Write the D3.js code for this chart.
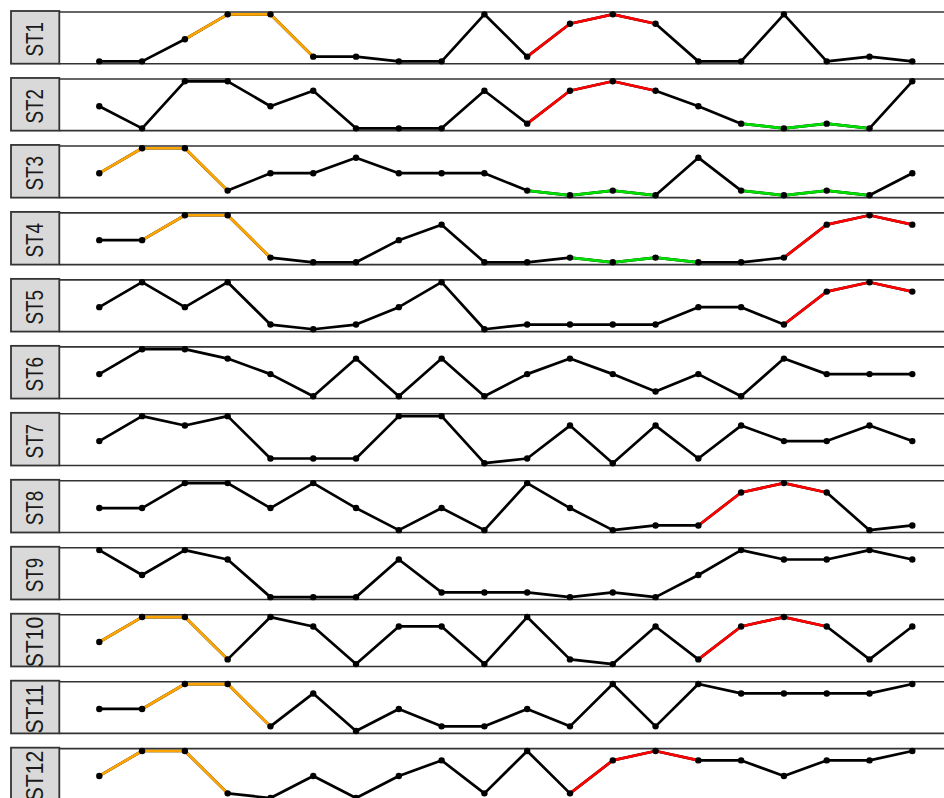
<!DOCTYPE html>
<html>
<head>
<meta charset="utf-8">
<script src="https://cdn.jsdelivr.net/npm/d3@7"></script>
<style>
html,body{margin:0;padding:0;background:#fff;overflow:hidden;}
svg{display:block;}
</style>
</head>
<body>
<svg id="chart" width="944" height="798"></svg>
<script>
// ---- data ----
const categories = ["T1","T2","T3","T4","T5","T6","T7","T8","T9","T10","T11","T12","T13","T14","T15","T16","T17","T18","T19","T20"];
const panelNames = ["ST1","ST2","ST3","ST4","ST5","ST6","ST7","ST8","ST9","ST10","ST11","ST12"];

const st1  = [0,0,0.47,1,1,0.1,0.1,0,0,1,0.1,0.8,1,0.8,0,0,1,0,0.1,0];
const st2  = [0.47,0,1,1,0.47,0.8,0,0,0,0.8,0.1,0.8,1,0.8,0.47,0.1,0,0.1,0,1];
const st3  = [0.47,1,1,0.1,0.47,0.47,0.8,0.47,0.47,0.47,0.1,0,0.1,0,0.8,0.1,0,0.1,0,0.47];
const st4  = [0.47,0.47,1,1,0.1,0,0,0.47,0.8,0,0,0.1,0,0.1,0,0,0.1,0.8,1,0.8];
const st5  = [0.47,1,0.47,1,0.1,0,0.1,0.47,1,0,0.1,0.1,0.1,0.1,0.47,0.47,0.1,0.8,1,0.8];
const st6  = [0.47,1,1,0.8,0.47,0,0.8,0,0.8,0,0.47,0.8,0.47,0.1,0.47,0,0.8,0.47,0.47,0.47];
const st7  = [0.47,1,0.8,1,0.1,0.1,0.1,1,1,0,0.1,0.8,0,0.8,0.1,0.8,0.47,0.47,0.8,0.47];
const st8  = [0.47,0.47,1,1,0.47,1,0.47,0,0.47,0,1,0.47,0,0.1,0.1,0.8,1,0.8,0,0.1];
const st9  = [1,0.47,1,0.8,0,0,0,0.8,0.1,0.1,0.1,0,0.1,0,0.47,1,0.8,0.8,1,0.8];
const st10 = [0.47,1,1,0.1,1,0.8,0,0.8,0.8,0,1,0.1,0,0.8,0.1,0.8,1,0.8,0.1,0.8];
const st11 = [0.47,0.47,1,1,0.1,0.8,0,0.47,0.1,0.1,0.47,0.1,1,0.1,1,0.8,0.8,0.8,0.8,1];
const st12 = [0.47,1,1,0.1,0,0.47,0,0.47,0.8,0.1,1,0.1,0.8,1,0.8,0.8,0.47,0.8,0.8,1];
const seriesValues = [st1,st2,st3,st4,st5,st6,st7,st8,st9,st10,st11,st12];

// highlighted runs: [panel index, start category index, end category index, kind]
const highlights = [
  [0,2,5,"peak"],[0,10,13,"rise"],
  [1,10,13,"rise"],[1,15,18,"low"],
  [2,0,3,"peak"],[2,10,13,"low"],[2,15,18,"low"],
  [3,1,4,"peak"],[3,11,14,"low"],[3,16,19,"rise"],
  [4,16,19,"rise"],
  [7,14,17,"rise"],
  [9,0,3,"peak"],[9,14,17,"rise"],
  [10,1,4,"peak"],
  [11,0,3,"peak"],[11,11,14,"rise"]
];
const kindColors = {peak:"#FFA500", rise:"#FF0000", low:"#00DD00"};

// ---- layout ----
const W = 944, H = 798;
const panelTop0 = 12, panelStep = 66.97, panelH = 51.7;
const stripX0 = 11, stripX1 = 59.3, plotX1 = 980;

const svg = d3.select("#chart");
svg.append("rect").attr("width",W).attr("height",H).attr("fill","#fff");

const x = d3.scalePoint().domain(categories).range([99.3, 912.3]);

const defs = svg.append("defs");

panelNames.forEach((name, p) => {
  const top = panelTop0 + p*panelStep;
  const bottom = top + panelH;
  const pad = panelH * 0.045;
  const y = d3.scaleLinear().domain([0,1]).range([bottom - pad, top + pad]);
  const vals = seriesValues[p];
  const pts = vals.map((v,i) => ({c: categories[i], v, i}));
  const line = d3.line().x(d => x(d.c)).y(d => y(d.v));

  const g = svg.append("g");

  // panel top/bottom border lines
  g.append("line").attr("x1", stripX1).attr("x2", plotX1).attr("y1", top).attr("y2", top)
    .attr("stroke","#333333").attr("stroke-width",1.6);
  g.append("line").attr("x1", stripX1).attr("x2", plotX1).attr("y1", bottom).attr("y2", bottom)
    .attr("stroke","#333333").attr("stroke-width",1.6);

  // base black line
  g.append("path").attr("d", line(pts)).attr("fill","none")
    .attr("stroke","#000").attr("stroke-width",2.7).attr("stroke-linejoin","round");

  // colored runs
  highlights.filter(h => h[0] === p).forEach(h => {
    g.append("path").attr("d", line(pts.slice(h[1], h[2]+1))).attr("fill","none")
      .attr("stroke", kindColors[h[3]]).attr("stroke-width",2.7).attr("stroke-linejoin","round");
  });

  // points
  g.selectAll("circle.pt").data(pts).enter().append("circle")
    .attr("cx", d => x(d.c)).attr("cy", d => y(d.v)).attr("r", 3.2).attr("fill","#000");

  // strip
  const clipId = "clip" + p;
  defs.append("clipPath").attr("id", clipId).append("rect")
    .attr("x", stripX0).attr("y", top - 1).attr("width", stripX1 - stripX0).attr("height", bottom - top + 1);
  g.append("rect").attr("x", stripX0).attr("y", top - 1).attr("width", stripX1 - stripX0).attr("height", bottom - top + 1)
    .attr("fill","#D9D9D9").attr("stroke","#333333").attr("stroke-width",1.8);
  const cy = (top + bottom)/2 + 1.5;
  const sx = name.length > 3 ? 0.9 : 0.8;
  g.append("g").attr("clip-path", `url(#${clipId})`)
    .append("text")
    .attr("transform", `translate(43.4,${cy}) rotate(-90) scale(${sx},1)`)
    .attr("text-anchor","middle")
    .attr("font-family","'Liberation Sans', Arial, sans-serif")
    .attr("font-size", 23.5)
    .attr("fill","#1A1A1A")
    .text(name);
});
</script>
</body>
</html>
